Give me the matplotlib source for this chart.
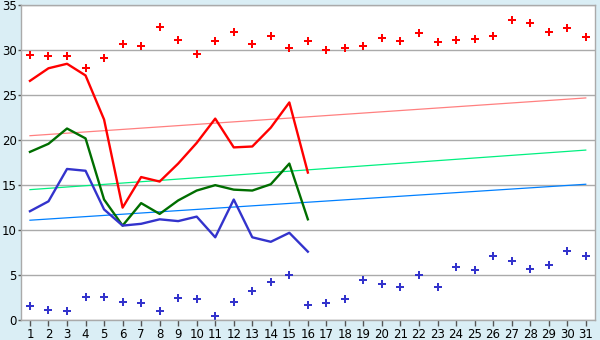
import matplotlib
matplotlib.use("Agg")
import matplotlib.pyplot as plt

days = list(range(1, 32))
days_obs = list(range(1, 17))

# observed daily values (first half of the month)
tmax = [26.6, 28.0, 28.5, 27.2, 22.3, 12.5, 15.9, 15.4, 17.4, 19.7, 22.4, 19.2, 19.3, 21.4, 24.2, 16.4]
tmean = [18.7, 19.6, 21.3, 20.2, 13.4, 10.5, 13.0, 11.8, 13.3, 14.4, 15.0, 14.5, 14.4, 15.1, 17.4, 11.2]
tmin = [12.1, 13.2, 16.8, 16.6, 12.3, 10.5, 10.7, 11.2, 11.0, 11.5, 9.2, 13.4, 9.2, 8.7, 9.7, 7.6]

# record highs / lows per day
rec_max = [29.5, 29.4, 29.4, 28.0, 29.1, 30.7, 30.5, 32.6, 31.2, 29.6,
           31.0, 32.0, 30.7, 31.6, 30.3, 31.0, 30.0, 30.3, 30.5, 31.4,
           31.0, 31.9, 30.9, 31.2, 31.3, 31.6, 33.4, 33.0, 32.0, 32.5, 31.5]
rec_min = [1.6, 1.1, 1.0, 2.6, 2.6, 2.0, 1.9, 1.0, 2.5, 2.3,
           0.5, 2.0, 3.2, 4.2, 5.0, 1.7, 1.9, 2.3, 4.4, 4.0,
           3.7, 5.0, 3.7, 5.9, 5.6, 7.1, 6.6, 5.7, 6.1, 7.7, 7.1]

# normals (straight trend from first to last day)
norm_days = [1, 31]
norm_max = [20.5, 24.7]
norm_mean = [14.5, 18.9]
norm_min = [11.1, 15.1]

bg = "#daeef5"
fig = plt.figure(figsize=(6, 3.4), dpi=100, facecolor=bg)
ax = fig.add_axes([0.0345, 0.0588, 0.9572, 0.9255])
ax.set_facecolor("white")

ax.plot(norm_days, norm_max, color="#ff8080", lw=0.9)
ax.plot(norm_days, norm_mean, color="#00f080", lw=0.9)
ax.plot(norm_days, norm_min, color="#0080ff", lw=0.9)

ax.plot(days_obs, tmax, color="#ff0000", lw=1.7)
ax.plot(days_obs, tmean, color="#006e00", lw=1.7)
ax.plot(days_obs, tmin, color="#3333cc", lw=1.7)

ax.plot(days, rec_max, ls="none", marker="P", ms=5.5, color="#ff0000", mew=0)
ax.plot(days, rec_min, ls="none", marker="P", ms=5.5, color="#3333cc", mew=0)

ax.set_xlim(0.5, 31.5)
ax.set_ylim(0, 35)
ax.set_xticks(days)
ax.set_yticks(range(0, 36, 5))
ax.yaxis.grid(True, color="#aaaaaa", lw=1)
ax.set_axisbelow(True)
for s in ax.spines.values():
    s.set_color("#aaaaaa")
    s.set_linewidth(1)
ax.tick_params(axis="x", labelsize=8.5, color="#555555", length=4, width=1, pad=2)
ax.tick_params(axis="y", labelsize=8.5, color="#555555", length=2, width=1, pad=1)

fig.savefig("out.png", dpi=100, facecolor=bg)
